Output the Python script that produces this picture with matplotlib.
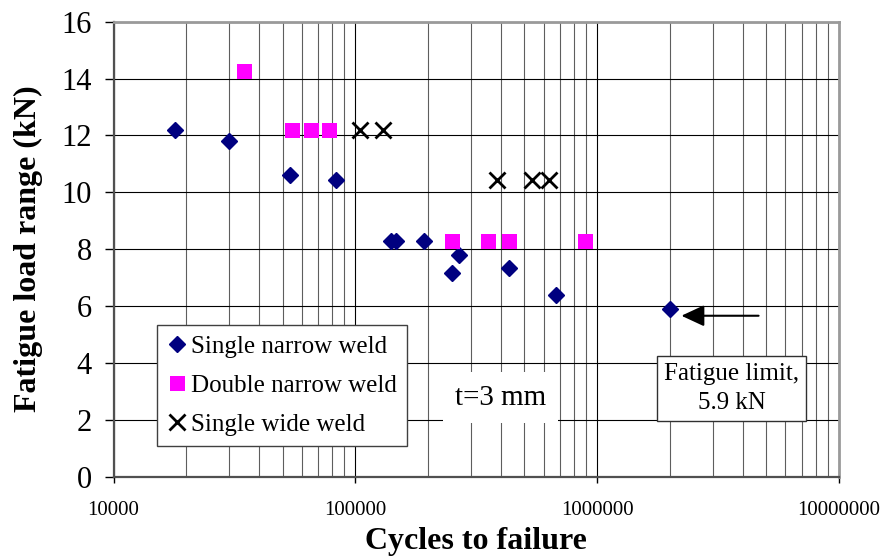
import matplotlib
matplotlib.use("Agg")
import matplotlib.pyplot as plt
from matplotlib.ticker import LogLocator, NullFormatter, FixedLocator

plt.rcParams['font.family'] = ['Liberation Serif', 'DejaVu Serif']

# Fatigue test results, t = 3 mm
single_narrow_cycles = [18000, 30000, 53500, 83000, 140000, 147000, 193000,
                        252000, 269000, 432000, 673000, 2000000]
single_narrow_load = [12.2, 11.8, 10.6, 10.45, 8.3, 8.3, 8.3,
                      7.15, 7.8, 7.35, 6.4, 5.9]

double_narrow_cycles = [34500, 54700, 65700, 77600, 251000, 352000, 432000, 889000]
double_narrow_load = [14.25, 12.2, 12.2, 12.2, 8.3, 8.3, 8.3, 8.3]

single_wide_cycles = [105000, 130000, 387000, 540000, 633000]
single_wide_load = [12.2, 12.2, 10.45, 10.45, 10.45]

x_ticks = [1e4, 1e5, 1e6, 1e7]
x_tick_labels = ["10000", "100000", "1000000", "10000000"]
y_ticks = [0, 2, 4, 6, 8, 10, 12, 14, 16]

fatigue_limit = 5.9
arrow_tip = (2.23e6, 5.66)
arrow_tail = (4.65e6, 5.66)

W, H = 883, 558
fig = plt.figure(figsize=(W / 100, H / 100), dpi=100)
ax = fig.add_axes([113.5 / W, 1 - 476.7 / H, (839 - 113.5) / W, (476.7 - 21.7) / H])

ax.set_xscale('log')
ax.set_xlim(1e4, 1e7)
ax.set_ylim(0, 16)

ax.xaxis.set_major_locator(FixedLocator(x_ticks))
ax.set_xticklabels(x_tick_labels)
ax.xaxis.set_minor_locator(LogLocator(base=10, subs=range(2, 10)))
ax.xaxis.set_minor_formatter(NullFormatter())
ax.set_yticks(y_ticks)

ax.tick_params(axis='y', which='major', labelsize=22, length=6.5, width=1,
               direction='out', pad=9)
ax.tick_params(axis='x', which='major', labelsize=15, length=4.5, width=1,
               direction='out', pad=13)
ax.tick_params(axis='x', which='minor', length=0)

# grid
ax.grid(True, axis='y', which='major', color='black', lw=0.8, zorder=0)
ax.grid(True, axis='x', which='major', color='black', lw=0.8, zorder=0)
ax.grid(True, axis='x', which='minor', color='#5e5e5e', lw=0.8, zorder=0)
ax.set_axisbelow(True)

for side in ('top', 'right'):
    ax.spines[side].set_color('#9a9a9a')
    ax.spines[side].set_linewidth(2)
for side in ('left', 'bottom'):
    ax.spines[side].set_color('#505050')
    ax.spines[side].set_linewidth(1.6)

ax.plot(single_narrow_cycles, single_narrow_load, ls='none', marker='D',
        ms=8, color='#000080', mec='#000080', label='Single narrow weld', zorder=5)
ax.plot(double_narrow_cycles, double_narrow_load, ls='none', marker='s',
        ms=10.8, color='#ff00ff', mec='#ff00ff', mew=0, label='Double narrow weld', zorder=5)
ax.plot(single_wide_cycles, single_wide_load, ls='none', marker='x',
        ms=11, color='black', mew=2, label='Single wide weld', zorder=5)

leg = ax.legend(loc='upper left', bbox_to_anchor=(157 / W, 1 - 325 / H),
                bbox_transform=fig.transFigure, borderaxespad=0,
                fontsize=18, frameon=True, fancybox=False, framealpha=1,
                edgecolor='#404040', borderpad=0.4, handlelength=0.8,
                handletextpad=0.15, labelspacing=0.66)
leg.get_frame().set_linewidth(1.0)
leg.set_zorder(10)

# annotation: fatigue limit
ax.annotate('', xy=arrow_tip, xytext=arrow_tail,
            arrowprops=dict(arrowstyle='-|>,head_length=1.4,head_width=0.65',
                            mutation_scale=10, color='black', lw=1.5,
                            shrinkA=0, shrinkB=0), zorder=6)
ax.text(0.852, 0.194, f'Fatigue limit,\n{fatigue_limit} kN', transform=ax.transAxes,
        ha='center', va='center', fontsize=18, linespacing=1.45, zorder=8,
        bbox=dict(boxstyle='square,pad=0.28', fc='white', ec='#303030', lw=1.0))

ax.text(0.5334, 0.174, 't=3 mm', transform=ax.transAxes, ha='center', va='center',
        fontsize=21, zorder=8,
        bbox=dict(boxstyle='square,pad=0.42', fc='white', ec='none'))

fig.text(476 / W, 1 - 542 / H, 'Cycles to failure', ha='center', va='center',
         fontsize=23, fontweight='bold')
fig.text(28 / W, 1 - 249 / H, 'Fatigue load range (kN)', ha='center', va='center',
         rotation=90, fontsize=23, fontweight='bold')

fig.savefig('out.png', dpi=100, facecolor='white')
